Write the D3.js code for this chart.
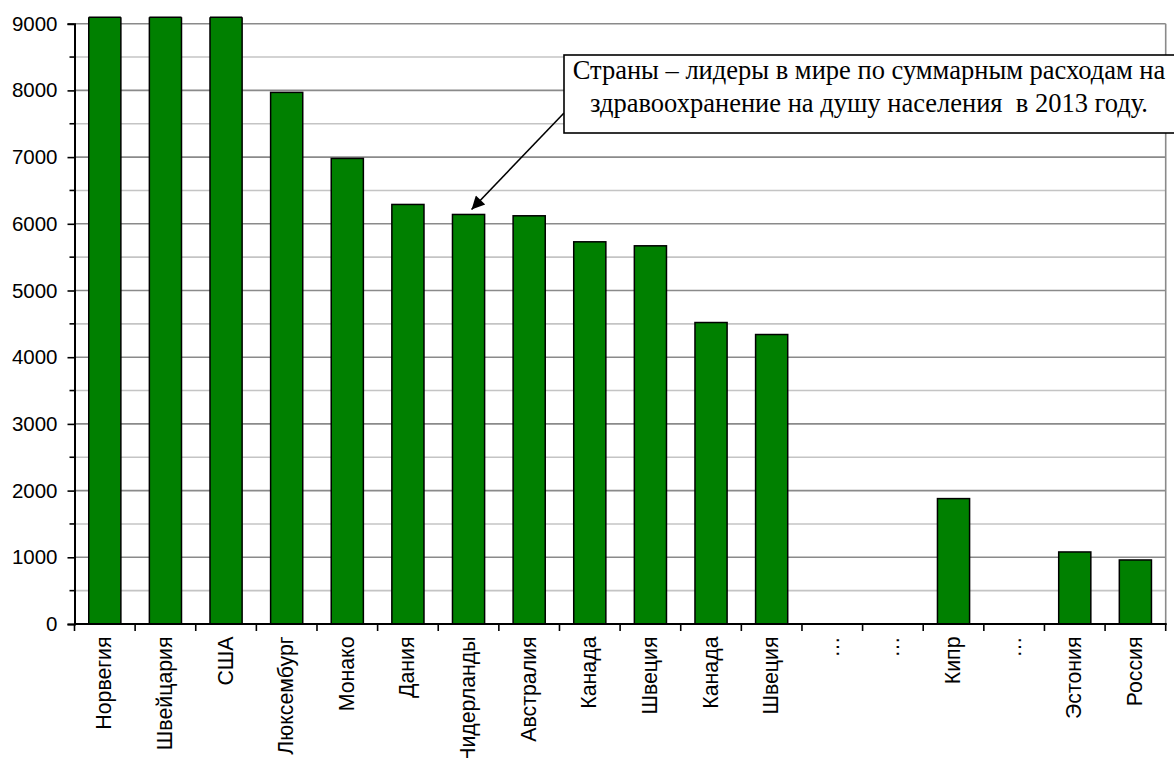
<!DOCTYPE html>
<html>
<head>
<meta charset="utf-8">
<script src="https://cdn.jsdelivr.net/npm/d3@7"></script>
<style>
  html, body { margin: 0; padding: 0; background: #fff; }
  svg { display: block; }
</style>
</head>
<body>
<svg id="chart" width="1174" height="758"></svg>
<script>
// ---- data ----
const categories = ["Норвегия", "Швейцария", "США", "Люксембург", "Монако", "Дания",
  "Нидерланды", "Австралия", "Канада", "Швеция", "Канада", "Швеция",
  "…", "…", "Кипр", "…", "Эстония", "Россия"];
const values = [9700, 9280, 9150, 7970, 6980, 6290, 6140, 6120, 5730, 5670, 4520, 4340,
  0, 0, 1880, 0, 1080, 960];
const yTicks = [0, 1000, 2000, 3000, 4000, 5000, 6000, 7000, 8000, 9000];
const yMinorTicks = [500, 1500, 2500, 3500, 4500, 5500, 6500, 7500, 8500];
const annotationLines = ["Страны – лидеры в мире по суммарным расходам на",
  "здравоохранение на душу населения  в 2013 году."];
const annotatedCategoryIndex = 6;

(function () {
// ---- layout ----
const svg = d3.select("#chart");
const pLeft = 74.5, pRight = 1165.7, pTop = 23.7, pBottom = 624;

const x = d3.scaleBand()
  .domain(d3.range(categories.length))
  .range([pLeft, pRight])
  .paddingInner(0.47)
  .paddingOuter(0.235);
const xb = d3.scaleBand().domain(d3.range(categories.length)).range([pLeft, pRight]);
const y = d3.scaleLinear().domain([0, 9000]).range([pBottom, pTop]);

// minor gridlines
svg.append("g").selectAll("line").data(yMinorTicks).join("line")
  .attr("x1", pLeft).attr("x2", pRight)
  .attr("y1", d => y(d)).attr("y2", d => y(d))
  .attr("stroke", "#c4c4c4").attr("stroke-width", 1.6);
// major gridlines
svg.append("g").selectAll("line").data(yTicks.filter(d => d > 0)).join("line")
  .attr("x1", pLeft).attr("x2", pRight)
  .attr("y1", d => y(d)).attr("y2", d => y(d))
  .attr("stroke", "#8a8a8a").attr("stroke-width", 1.6);
// right border
svg.append("line")
  .attr("x1", pRight).attr("x2", pRight).attr("y1", y(9000)).attr("y2", pBottom)
  .attr("stroke", "#8a8a8a").attr("stroke-width", 1.6);

// bars (clipped slightly above top of axis like the original)
svg.append("clipPath").attr("id", "clip").append("rect")
  .attr("x", 0).attr("y", pTop - 6.5).attr("width", 1174).attr("height", pBottom - pTop + 6.5);
svg.append("g").attr("clip-path", "url(#clip)")
  .selectAll("rect").data(values).join("rect")
  .attr("x", (d, i) => x(i))
  .attr("width", x.bandwidth())
  .attr("y", d => y(d))
  .attr("height", d => pBottom - y(d))
  .attr("fill", d => d > 0 ? "#008000" : "none")
  .attr("stroke", d => d > 0 ? "#000" : "none")
  .attr("stroke-width", 1.5);
// top edge of clipped bars
svg.append("g").selectAll("line").data(values.map((v, i) => ({v, i})).filter(d => d.v > 9000)).join("line")
  .attr("x1", d => x(d.i)).attr("x2", d => x(d.i) + x.bandwidth())
  .attr("y1", pTop - 6.5).attr("y2", pTop - 6.5)
  .attr("stroke", "#000").attr("stroke-width", 1.5);

// y axis
const yAxis = d3.axisLeft(y).tickValues(yTicks).tickSize(7).tickPadding(10).tickFormat(d3.format("d"));
const gy = svg.append("g").attr("transform", `translate(${pLeft},0)`).call(yAxis);
gy.select(".domain").attr("stroke", "#000").attr("stroke-width", 2);
gy.selectAll(".tick line").attr("stroke", "#000").attr("stroke-width", 1.6);
gy.selectAll(".tick text")
  .attr("font-family", "'Liberation Sans', Arial, sans-serif")
  .attr("font-size", 20.5).attr("fill", "#000");
// minor ticks
gy.append("g").selectAll("line").data(yMinorTicks).join("line")
  .attr("x1", -5).attr("x2", 0)
  .attr("y1", d => y(d)).attr("y2", d => y(d))
  .attr("stroke", "#000").attr("stroke-width", 1.6);

// x axis
const gx = svg.append("g").attr("transform", `translate(0,${pBottom})`);
gx.append("line").attr("x1", pLeft).attr("x2", pRight + 1).attr("y1", 0).attr("y2", 0)
  .attr("stroke", "#000").attr("stroke-width", 2);
gx.selectAll("line.tk").data(d3.range(categories.length + 1)).join("line")
  .attr("class", "tk")
  .attr("x1", i => i < categories.length ? xb(i) : pRight)
  .attr("x2", i => i < categories.length ? xb(i) : pRight)
  .attr("y1", 0).attr("y2", 7)
  .attr("stroke", "#000").attr("stroke-width", 1.6);
gx.selectAll("text").data(categories).join("text")
  .attr("transform", (d, i) => `translate(${xb(i) + xb.bandwidth() / 2 - 1},12.5) rotate(-90)`)
  .attr("text-anchor", "end")
  .attr("dy", "0.35em")
  .attr("font-family", "'Liberation Sans', Arial, sans-serif")
  .attr("font-size", 21.3)
  .attr("fill", "#000")
  .text(d => d);

// annotation arrow
const tipX = x(annotatedCategoryIndex) + x.bandwidth() / 2 + 3;
const tipY = y(values[annotatedCategoryIndex]) - 5;
const startX = 564, startY = 113;
svg.append("defs").append("marker")
  .attr("id", "arrow").attr("viewBox", "0 0 10 10")
  .attr("refX", 10).attr("refY", 5)
  .attr("markerWidth", 16).attr("markerHeight", 13)
  .attr("markerUnits", "userSpaceOnUse")
  .attr("orient", "auto")
  .append("path").attr("d", "M0,0 L10,5 L0,10 z").attr("fill", "#000");
svg.append("line")
  .attr("x1", startX).attr("y1", startY).attr("x2", tipX).attr("y2", tipY)
  .attr("stroke", "#000").attr("stroke-width", 1.6)
  .attr("marker-end", "url(#arrow)");

// annotation box
svg.append("rect")
  .attr("x", 564).attr("y", 55).attr("width", 640).attr("height", 78)
  .attr("fill", "#fff").attr("stroke", "#000").attr("stroke-width", 1.6);
svg.append("g").selectAll("text").data(annotationLines).join("text")
  .attr("x", 869)
  .attr("y", (d, i) => 79 + i * 33)
  .attr("text-anchor", "middle")
  .attr("font-family", "'Liberation Serif', 'Times New Roman', serif")
  .attr("font-size", 26.5)
  .attr("fill", "#000")
  .style("white-space", "pre")
  .text(d => d);
})();
</script>
</body>
</html>
